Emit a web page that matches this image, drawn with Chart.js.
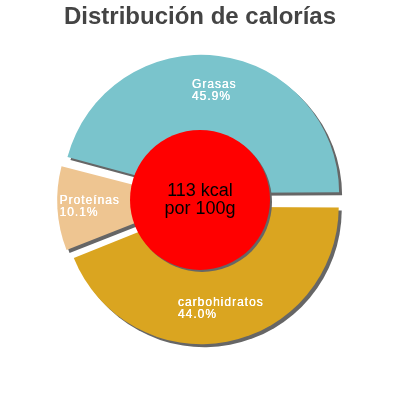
<!DOCTYPE html>
<html>
<head>
<meta charset="utf-8">
<script src="https://cdn.jsdelivr.net/npm/chart.js@4"></script>
<style>
  html, body { margin: 0; padding: 0; background: #fff; }
  #calChart { display: block; }
</style>
</head>
<body>
<canvas id="calChart" width="400" height="400"></canvas>
<script>
// data (clockwise starting at 3 o'clock)
const categories = ['carbohidratos', 'Proteínas', 'Grasas'];
const percentages = [44.0, 10.1, 45.9];
const sliceColors = ['#DAA520', '#EEC591', '#7AC4CC'];
const centerLines = ['113 kcal', 'por 100g'];
const chartTitle = 'Distribución de calorías';

const shadowColor = '#666666';

// gives the slices a hard grey drop shadow
const shadowPlugin = {
  id: 'shadow',
  beforeDatasetsDraw(chart) {
    const ctx = chart.ctx;
    ctx.save();
    ctx.shadowColor = shadowColor;
    ctx.shadowBlur = 0;
    ctx.shadowOffsetX = 3;
    ctx.shadowOffsetY = 3;
  },
  afterDatasetsDraw(chart) {
    chart.ctx.restore();
  }
};

// red disc in the middle + the labels on the slices
const centerPlugin = {
  id: 'centerDisc',
  afterDatasetsDraw(chart) {
    const ctx = chart.ctx;
    const arcs = chart.getDatasetMeta(0).data;
    const first = arcs[0];
    // arcs are painted with outerRadius + offset/4 in v4
    const R = first.outerRadius + (first.options.offset || 0) / 4;
    const cx = first.x, cy = first.y;

    ctx.save();
    ctx.shadowColor = shadowColor;
    ctx.shadowOffsetX = 2;
    ctx.shadowOffsetY = 2;
    ctx.fillStyle = '#FF0000';
    ctx.beginPath();
    ctx.arc(cx, cy, R * 0.5, 0, Math.PI * 2);
    ctx.fill();
    ctx.restore();

    ctx.save();
    ctx.fillStyle = '#000';
    ctx.font = '18px "Liberation Sans", Arial, sans-serif';
    ctx.textAlign = 'center';
    ctx.textBaseline = 'middle';
    ctx.fillText(centerLines[0], cx, cy - 9);
    ctx.fillText(centerLines[1], cx, cy + 9);
    ctx.restore();

    ctx.save();
    ctx.fillStyle = '#fff';
    ctx.font = '12px "Liberation Sans", Arial, sans-serif';
    ctx.letterSpacing = '1px';
    ctx.textAlign = 'left';
    ctx.textBaseline = 'middle';
    arcs.forEach((arc, i) => {
      const mid = (arc.startAngle + arc.endAngle) / 2;
      const r = R * 0.79;
      const lx = arc.x + Math.cos(mid) * r;
      const ly = arc.y + Math.sin(mid) * r;
      const l1 = categories[i];
      const l2 = percentages[i].toFixed(1) + '%';
      const w = Math.max(ctx.measureText(l1).width, ctx.measureText(l2).width);
      // drawn twice, a hair apart, so the small white text reads as heavy as the original
      ctx.fillText(l1, lx - w / 2, ly - 6);
      ctx.fillText(l2, lx - w / 2, ly + 6);
      ctx.fillText(l1, lx - w / 2 + 0.3, ly - 6);
      ctx.fillText(l2, lx - w / 2 + 0.3, ly + 6);
    });
    ctx.restore();
  }
};

const calChart = new Chart(document.getElementById('calChart'), {
  type: 'pie',
  data: {
    labels: categories,
    datasets: [{
      data: percentages,
      backgroundColor: sliceColors,
      borderWidth: 0,
      offset: 28,
      hoverOffset: 28,
      clip: false
    }]
  },
  options: {
    responsive: false,
    animation: false,
    events: [],
    rotation: 90,
    layout: {
      padding: { top: 0, left: 53, right: 53, bottom: 53 }
    },
    plugins: {
      legend: { display: false },
      tooltip: { enabled: false },
      title: {
        display: true,
        text: chartTitle,
        color: '#444444',
        font: { family: '"Liberation Sans", Arial, sans-serif', size: 24, weight: 'bold', lineHeight: 1.2 },
        padding: { top: 3, bottom: 21 }
      }
    }
  },
  plugins: [shadowPlugin, centerPlugin]
});
</script>
</body>
</html>
